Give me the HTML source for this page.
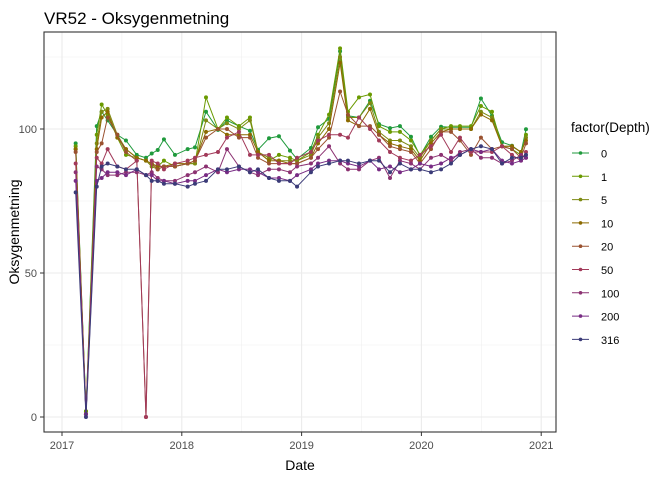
<!DOCTYPE html>
<html><head><meta charset="utf-8"><style>
body{margin:0;background:#fff;font-family:"Liberation Sans",Arial,sans-serif}
svg text{font-family:"Liberation Sans",Arial,sans-serif}
</style></head><body>
<svg id="chart" width="672" height="480" viewBox="0 0 672 480">
<rect width="672" height="480" fill="#fff"/>
<text x="44" y="24" font-size="17" fill="#000">VR52  -  Oksygenmetning</text>
<g id="grid"></g>
<g id="series"></g>
<rect x="44" y="32" width="512" height="400" fill="none" stroke="#333" stroke-width="1.1"/>
<g id="axes"></g>
<text x="300" y="470" font-size="14" text-anchor="middle">Date</text>
<text transform="translate(19,232) rotate(-90)" font-size="14" text-anchor="middle">Oksygenmetning</text>
<g id="legend">
<text x="571" y="132" font-size="13.5">factor(Depth)</text>
</g>
</svg>
<script>
const dates=[.114,.200,.290,.331,.381,.462,.534,.624,.701,.749,.799,.851,.943,1.049,1.110,1.202,1.302,1.377,1.477,1.569,1.636,1.728,1.811,1.903,1.962,2.078,2.137,2.229,2.321,2.387,2.479,2.571,2.646,2.738,2.821,2.913,2.988,3.080,3.164,3.247,3.322,3.414,3.497,3.589,3.673,3.756,3.831,3.873];
const depths=["0","1","5","10","20","50","100","200","316"];
const colors=["#1f9a3c","#6a9a00","#7d8a12","#8c6a00","#9a5230","#a23a5a","#8c3272","#782c84","#3b3b78"];
const s0=[95,2,101,106,103,98,96,91,90,91.5,92.7,96.4,91,93,93.6,106,99.7,103,101,99.4,92.8,96.8,97.5,92.5,89.6,93.4,100.6,103.5,127,104.6,104,109.8,101.7,100.3,101,97.3,90.7,97.3,100.8,100.6,100.6,100.6,110.6,104.6,95.4,94.2,91.9,99.9];
const s1=[94,2,98,108.5,105,97,91,90,89,88,87,89,87,88,88,111,100,104,101,104,92,89,91,90,89,92,98,105,128,106,111,112,101,99,99,96,91,96,100,101,101,101,108,106,94,93,91,98];
const s5=[93,1,95,106,107,98,93,90,89,87,86,87,87,88,88,103,100,102,100,103,92,90,89,89,89,91,97,102,125,104,104,109,99,96,96,94,90,96,100,100,100,100,106,104,94,94,92,97];
const s10=[93,1,93,104,106,97,93,90,89,88,87,87,88,88,89,99,100,98,98,98,92,89,89,88,88,90,95,100,123,103,101,107,98,95,94,93,89,95,99,100,100,100,105,103,94,94,92,96];
const s20=[92,1,92,95,104,98,92,89,0,88,86,87,87,88,89,97,100,100,97,97,90,88,88,88,88,90,93,97,113,105,101,101,98,94,93,92,88,93,99,99,96,91,97,93,94,93,90,95];
const s50=[88,1,90,88,93,87,86,89,0,89,88,86,88,89,90,91,92,97,99,91,91,91,88,88,90,92,96,98,98,97,104,100,96,92,90,89,91,94,98,92,97,92,92,92,94,91,89,92];
const s100=[85,1,87,86,84,84,85,85,84,85,83,82,82,84,85,87,85,93,87,85,84,86,86,85,87,88,90,94,88,86,86,89,90,83,89,88,86,90,91,89,92,93,90,90,88,89,91,90];
const s200=[82,1,82,83,85,85,84,86,84,84,82,82,81,82,82,84,86,85,86,86,85,83,83,82,84,86,88,89,89,88,87,89,86,87,85,86,88,87,88,90,91,93,92,93,89,88,89,90];
const s316=[78,0,80,87,88,87,86,86,84,82,82,81,81,80,81,82,86,86,87,85,86,83,82,82,80,85,87,88,89,89,88,89,89,85,88,86,86,85,86,88,91,93,94,93,88,90,90,91];
const allSeries=[s0,s1,s5,s10,s20,s50,s100,s200,s316];
const yTicks=[0,50,100];
const xTicks=[2017,2018,2019,2020,2021];
const NS="http://www.w3.org/2000/svg";
function X(yr){return 62+(yr-2017)*119.8;}
function Y(v){return 417-v*2.88;}
function mk(tag,attrs,parent){const e=document.createElementNS(NS,tag);for(const k in attrs)e.setAttribute(k,attrs[k]);parent.appendChild(e);return e;}
const grid=document.getElementById('grid'),ser=document.getElementById('series'),axes=document.getElementById('axes'),leg=document.getElementById('legend');
[25,75,125].forEach(v=>{const l=mk('line',{x1:44,x2:556,y1:Y(v),y2:Y(v),stroke:'#f0f0f0','stroke-width':0.6},grid);

});
[2017.5,2018.5,2019.5,2020.5].forEach(t=>{const l=mk('line',{x1:X(t),x2:X(t),y1:32,y2:432,stroke:'#f0f0f0','stroke-width':0.6},grid);

});
yTicks.forEach(v=>{const l=mk('line',{x1:44,x2:556,y1:Y(v),y2:Y(v),stroke:'#ebebeb','stroke-width':1.1},grid);


const tk=mk('line',{x1:40,x2:44,y1:Y(v),y2:Y(v),stroke:'#333'},axes);


const t=mk('text',{x:37,y:Y(v)+4,'font-size':11,'text-anchor':'end',fill:'#4d4d4d'},axes);t.textContent=v;

});
xTicks.forEach(v=>{const l=mk('line',{x1:X(v),x2:X(v),y1:32,y2:432,stroke:'#ebebeb','stroke-width':1.1},grid);


const tk=mk('line',{x1:X(v),x2:X(v),y1:432,y2:436,stroke:'#333'},axes);


const t=mk('text',{x:X(v),y:449,'font-size':11,'text-anchor':'middle',fill:'#4d4d4d'},axes);t.textContent=v;

});
allSeries.forEach((s,i)=>{const g=mk('g',{},ser);


const pts=s.map((v,j)=>X(2017+dates[j]).toFixed(1)+','+Y(v).toFixed(1)).join(' ');
const pl=mk('polyline',{points:pts,fill:'none',stroke:colors[i],'stroke-width':1},g);


s.forEach((v,j)=>{const c=mk('circle',{cx:X(2017+dates[j]),cy:Y(v),r:2,fill:colors[i]},g);

});
const ly=153+i*23.3;
const e=mk('g',{},leg);


mk('line',{x1:572,x2:589,y1:ly,y2:ly,stroke:colors[i],'stroke-width':1},e);
mk('circle',{cx:580.5,cy:ly,r:1.8,fill:colors[i]},e);
const t=mk('text',{x:601,y:ly+4.5,'font-size':11,fill:'#000'},e);t.textContent=depths[i];});
</script>
</body></html>
